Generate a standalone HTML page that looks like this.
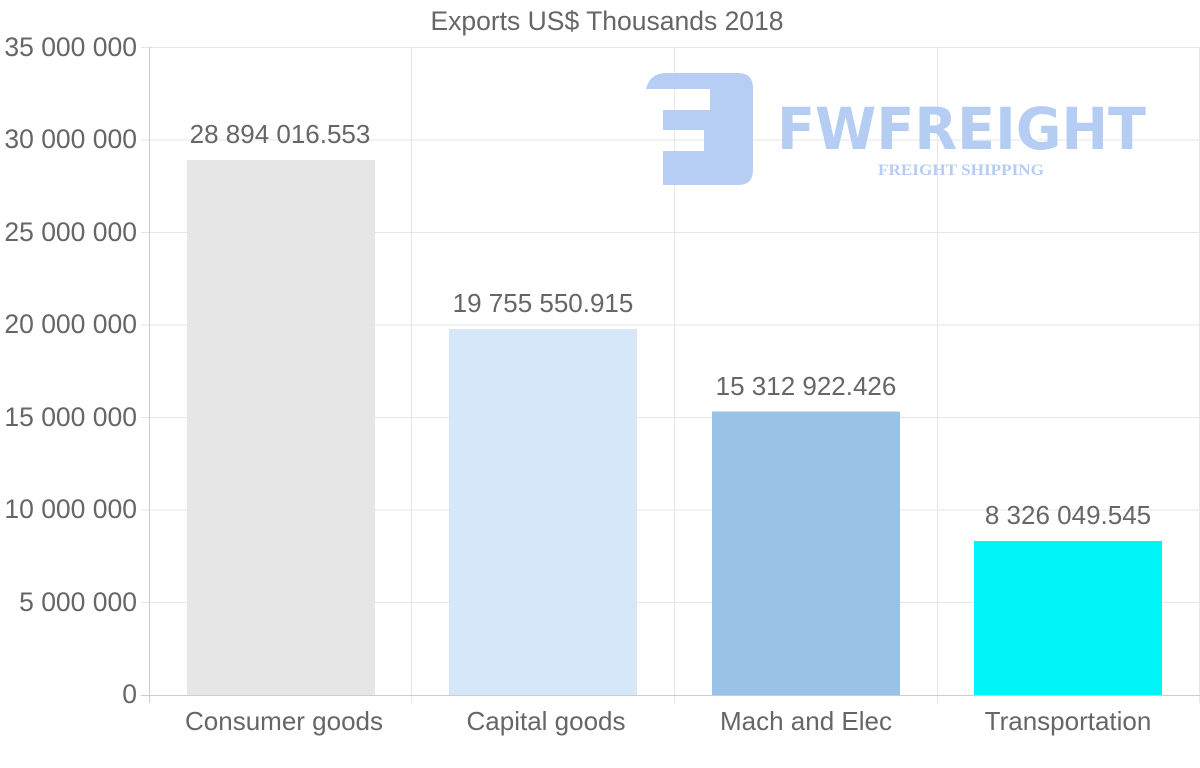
<!DOCTYPE html>
<html><head><style>
body{margin:0;background:#fff;}
svg text{font-family:"Liberation Sans",sans-serif;}
</style></head><body>
<svg width="1200" height="763" xmlns="http://www.w3.org/2000/svg">
<text x="607" y="30" text-anchor="middle" font-size="26.5" fill="#666">Exports US$ Thousands 2018</text>
<g stroke="#e6e6e6" stroke-width="1">
<line x1="149" y1="47.5" x2="1200" y2="47.5"/>
<line x1="149" y1="140" x2="1200" y2="140"/>
<line x1="149" y1="232.5" x2="1200" y2="232.5"/>
<line x1="149" y1="325" x2="1200" y2="325"/>
<line x1="149" y1="417.5" x2="1200" y2="417.5"/>
<line x1="149" y1="510" x2="1200" y2="510"/>
<line x1="149" y1="602.5" x2="1200" y2="602.5"/>
<line x1="411.5" y1="47" x2="411.5" y2="703"/>
<line x1="674.5" y1="47" x2="674.5" y2="703"/>
<line x1="937.5" y1="47" x2="937.5" y2="703"/>
<line x1="1199.5" y1="47" x2="1199.5" y2="703"/>
</g>
<g stroke="#ccc"><line x1="149.5" y1="47" x2="149.5" y2="703"/><line x1="141" y1="695.5" x2="1200" y2="695.5"/></g>
<g stroke="#e6e6e6"><line x1="141" y1="47.5" x2="149" y2="47.5"/><line x1="141" y1="140" x2="149" y2="140"/><line x1="141" y1="232.5" x2="149" y2="232.5"/><line x1="141" y1="325" x2="149" y2="325"/><line x1="141" y1="417.5" x2="149" y2="417.5"/><line x1="141" y1="510" x2="149" y2="510"/><line x1="141" y1="602.5" x2="149" y2="602.5"/></g>
<g font-size="26.5" fill="#666" text-anchor="end">
<text x="137" y="56">35 000 000</text>
<text x="137" y="148">30 000 000</text>
<text x="137" y="241">25 000 000</text>
<text x="137" y="333">20 000 000</text>
<text x="137" y="426">15 000 000</text>
<text x="137" y="518">10 000 000</text>
<text x="137" y="611">5 000 000</text>
<text x="137" y="703">0</text>
</g>
<g fill="#b3cbf3" opacity="0.95">
<path d="M646 89 Q650 73 666 73 H738 Q753 73 753 88 V170 Q753 185 738 185 H663 V151 H704 V130 H663 V110 H710 V89 Z"/>
<text x="777" y="149" font-size="58" font-weight="bold" textLength="369" lengthAdjust="spacingAndGlyphs" style="font-family:'DejaVu Sans',sans-serif">FWFREIGHT</text>
<text x="878" y="175" font-size="16" font-weight="bold" textLength="166" lengthAdjust="spacingAndGlyphs" style="font-family:'Liberation Serif',serif">FREIGHT SHIPPING</text>
</g>
<rect x="187" y="160" width="188" height="535" fill="#e6e6e6"/>
<rect x="449" y="329" width="188" height="366" fill="#d6e7f9"/>
<rect x="712" y="411.5" width="188" height="283.5" fill="#99c3e6"/>
<rect x="974" y="541" width="188" height="154" fill="#00f5f8"/>
<g font-size="26" fill="#666" text-anchor="middle">
<text x="280" y="143">28 894 016.553</text>
<text x="543" y="312">19 755 550.915</text>
<text x="806" y="395">15 312 922.426</text>
<text x="1068" y="524">8 326 049.545</text>
<text x="284" y="730">Consumer goods</text>
<text x="546" y="730">Capital goods</text>
<text x="806" y="730">Mach and Elec</text>
<text x="1068" y="730">Transportation</text>
</g>
</svg>
</body></html>
